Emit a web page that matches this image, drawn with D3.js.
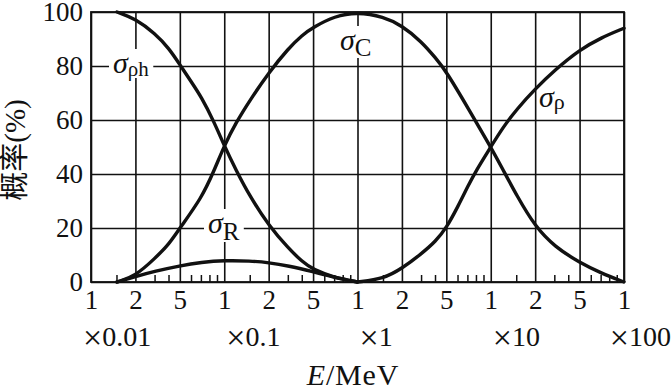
<!DOCTYPE html>
<html><head><meta charset="utf-8">
<script src="https://cdn.jsdelivr.net/npm/d3@7"></script>
<style>body{margin:0;background:#fff}svg{display:block}</style>
</head><body>
<svg id="c" width="671" height="390"></svg>
<script>
// ---- data ----
const energyMajor = [0.01,0.02,0.05,0.1,0.2,0.5,1,2,5,10,20,50,100];
const majorLabels = ["1","2","5","1","2","5","1","2","5","1","2","5","1"];
const decadeValues = [0.01,0.1,1,10,100];
const decadeNumbers = ["0.01","0.1","1","10","100"];
const decadeStarts = [0.01,0.1,1,10];
const minorFactors = [1.5,3,4,6,7,8,9];
const yTicks = [0,20,40,60,80,100];

// photoelectric (σρh)
const photoE = [0.015,0.02,0.03,0.04,0.05,0.06,0.07,0.085,0.1,0.12,0.15,0.2,0.3,0.4,0.5,0.7,1];
const photoV = [100,97.5,92,86.5,80.5,74,68.5,59.5,50.5,41.5,31.5,21,12.5,7.5,4.6,1.6,0];
// Rayleigh (σR)
const rayE = [0.015,0.02,0.03,0.05,0.07,0.1,0.15,0.2,0.3,0.5,0.7,1];
const rayV = [0,2,4,6,7.3,8,7.8,7.2,6,3.8,1.7,0];
// Compton (σC)
const comptonE = [0.015,0.02,0.03,0.04,0.05,0.07,0.085,0.1,0.12,0.15,0.2,0.3,0.4,0.5,0.7,1,1.5,2,3,4,5,7,10,12,15,20,30,50,70,100];
const comptonV = [0,2.2,8.8,14,20,31,41,50.5,59,67.5,77.5,86.5,91.5,94.3,98.5,100,98.2,95,89,83,78,64.5,50,42,32,20.5,13,7.2,3.3,0];
// pair production (σρ)
const pairE = [1,1.5,2,3,4,5,6,7,8,10,12,15,20,30,50,70,100];
const pairV = [0,1.2,5,10.5,15,20,28,35.5,41.5,50,57,64,71.5,78.5,86,90.5,94];

(function(){
// ---- layout ----
const mL = 91, mR = 624, mT = 12, mB = 282;
const serif = "'Liberation Serif','Times New Roman',serif";
const ink = "#111";

const svg = d3.select("#c");
const x = d3.scaleLog()
  .domain(energyMajor)
  .range(energyMajor.map((d,i)=> mL + i*(mR-mL)/(energyMajor.length-1)));
const y = d3.scaleLinear().domain([0,100]).range([mB, mT]);

// grid + labels (x)
const gx = svg.append("g").attr("transform",`translate(0,${mB})`)
  .call(d3.axisBottom(x).tickValues(energyMajor)
    .tickFormat((d,i)=>majorLabels[i])
    .tickSize(-(mB-mT)).tickPadding(8));
gx.select(".domain").remove();
gx.selectAll(".tick line").attr("stroke",ink).attr("stroke-width",1.6);
gx.selectAll(".tick text").attr("font-family",serif).attr("font-size",27).attr("fill",ink);

// grid + labels (y)
const gy = svg.append("g").attr("transform",`translate(${mL},0)`)
  .call(d3.axisLeft(y).tickValues(yTicks)
    .tickSize(-(mR-mL)).tickPadding(8));
gy.select(".domain").remove();
gy.selectAll(".tick line").attr("stroke",ink).attr("stroke-width",1.6);
gy.selectAll(".tick text").attr("font-family",serif).attr("font-size",27).attr("fill",ink);

// minor ticks
const minorVals = d3.cross(decadeStarts, minorFactors, (a,b)=>a*b);
svg.append("g").selectAll("line").data(minorVals).join("line")
  .attr("x1",d=>x(d)).attr("x2",d=>x(d))
  .attr("y1",mB).attr("y2",mB-7)
  .attr("stroke",ink).attr("stroke-width",1.5);

// frame
svg.append("rect").attr("x",mL).attr("y",mT)
  .attr("width",mR-mL).attr("height",mB-mT)
  .attr("fill","none").attr("stroke",ink).attr("stroke-width",1.8);

// decade multipliers
const last = decadeValues.length-1;
const dl = svg.append("g").selectAll("text").data(decadeValues).join("text")
  .attr("x",(d,i)=> i===0 ? x(d)-8 : (i===last ? x(d)+47 : x(d)+2))
  .attr("y",346)
  .attr("text-anchor",(d,i)=> i===last ? "end" : "start")
  .attr("font-family",serif).attr("font-size",28).attr("fill",ink);
dl.append("tspan").attr("font-size",34).attr("dy",2.5).text("×");
dl.append("tspan").attr("dy",-2.5).text((d,i)=>decadeNumbers[i]);

// x title
const xt = svg.append("text").attr("x",353).attr("y",385)
  .attr("text-anchor","middle").attr("font-family",serif).attr("font-size",30)
  .attr("letter-spacing",0.8).attr("fill",ink);
xt.append("tspan").attr("font-style","italic").text("E");
xt.append("tspan").text("/MeV");

// y title
svg.append("text").attr("transform","translate(25,150) rotate(-90)")
  .attr("text-anchor","middle")
  .attr("font-family","'Liberation Serif','Noto Sans CJK SC',serif")
  .attr("font-size",29).attr("fill",ink).text("概率(%)");

// curves
const line = d3.line().x(d=>x(d[0])).y(d=>y(d[1])).curve(d3.curveBasis);
const series = [
  d3.zip(photoE, photoV),
  d3.zip(rayE, rayV),
  d3.zip(comptonE, comptonV),
  d3.zip(pairE, pairV)
];
svg.append("g").selectAll("path").data(series).join("path")
  .attr("d",line).attr("fill","none").attr("stroke",ink)
  .attr("stroke-width",3.4).attr("stroke-linejoin","round").attr("stroke-linecap","round");

// labels
function sigmaLabel(px, py, sub, subSize, subDy, bg){
  const g = svg.append("g");
  const t = g.append("text").attr("x",px).attr("y",py)
    .attr("font-family",serif).attr("fill",ink);
  t.append("tspan").attr("font-style","italic").attr("font-size",30).text("σ");
  t.append("tspan").attr("font-size",subSize).attr("dy",subDy).text(sub);
  if (bg){
    const b = t.node().getBBox();
    g.insert("rect","text").attr("x",b.x-4).attr("y",b.y+3)
      .attr("width",b.width+8).attr("height",b.height-6).attr("fill","#fff");
  }
}
sigmaLabel(113, 73, "ρh", 21, 3, true);
sigmaLabel(340, 50, "C", 25, 6, true);
sigmaLabel(208, 233, "R", 25, 7, true);
sigmaLabel(539, 107, "ρ", 22, 2, false);
})();
</script>
</body></html>
